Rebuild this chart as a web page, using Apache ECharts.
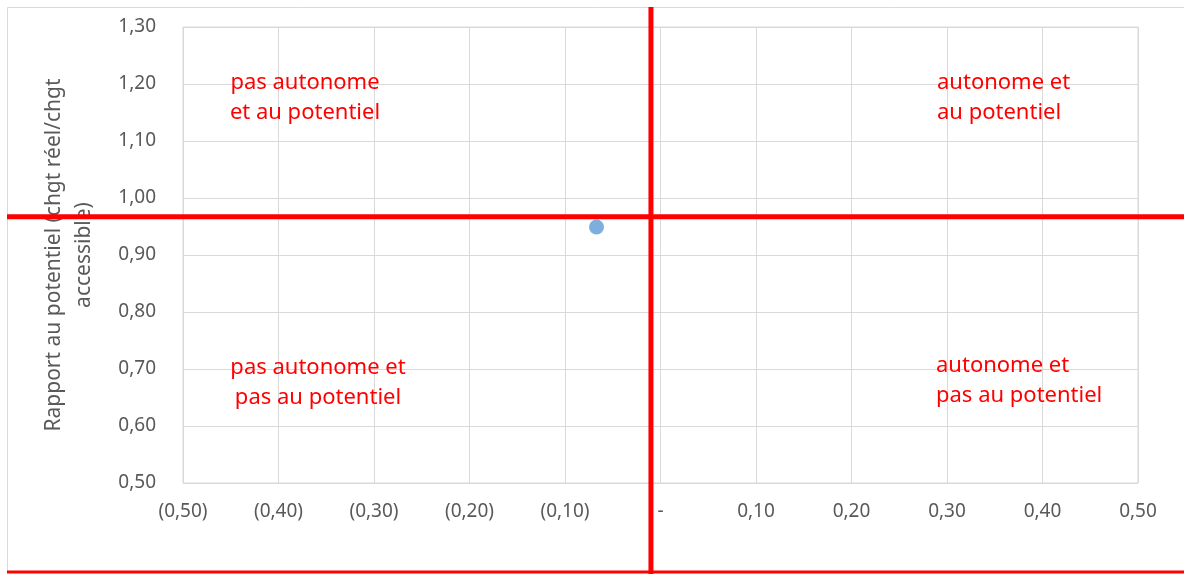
<!DOCTYPE html>
<html>
<head>
<meta charset="utf-8">
<script src="https://cdn.jsdelivr.net/npm/echarts@6/dist/echarts.min.js"></script>
<style>
  html, body { margin: 0; padding: 0; background: #fff; }
  #main { width: 1184px; height: 574px; }
</style>
</head>
<body>
<div id="main"></div>
<script>
// data
var pointX = [-0.067];
var pointY = [0.949];
var splitX = [-0.01];    // vertical red line
var splitY = [0.967];    // horizontal red line
var quadrantTexts = [
    'pas autonome\net au potentiel',
    'autonome et\nau potentiel',
    'pas autonome et\npas au potentiel',
    'autonome et\npas au potentiel'
];

var font = '"Noto Sans", "Open Sans", sans-serif';
var chart = echarts.init(document.getElementById('main'));

function fmtNum(v) {
    var r = Math.round(v * 100) / 100;
    if (Math.abs(r) < 1e-9) return '-';
    var s = Math.abs(r).toFixed(2).replace('.', ',');
    return r < 0 ? '(' + s + ')' : s;
}

var option = {
    animation: false,
    backgroundColor: '#fff',
    grid: {
        left: 183, right: 46, top: 27, bottom: 91,
        show: true, borderColor: '#d9d9d9', borderWidth: 1
    },
    xAxis: {
        type: 'value', min: -0.5, max: 0.5, interval: 0.1,
        axisLine: { show: false }, axisTick: { show: false },
        splitLine: { lineStyle: { color: '#d9d9d9', width: 1 } },
        axisLabel: { color: '#595959', fontSize: 19, fontFamily: font, margin: 19, formatter: fmtNum }
    },
    yAxis: {
        type: 'value', min: 0.5, max: 1.3, interval: 0.1,
        axisLine: { show: false }, axisTick: { show: false },
        splitLine: { lineStyle: { color: '#d9d9d9', width: 1 } },
        axisLabel: { color: '#595959', fontSize: 19, fontFamily: font, margin: 27, formatter: fmtNum },
        name: 'Rapport au potentiel (chgt réel/chgt\naccessible)',
        nameLocation: 'middle', nameRotate: 90, nameGap: 84,
        nameTextStyle: { color: '#595959', fontSize: 21, fontFamily: font, lineHeight: 30 }
    },
    series: [{
        type: 'scatter',
        symbolSize: 15,
        itemStyle: { color: '#5b9bd5' },
        data: pointX.map(function (x, i) { return [x, pointY[i]]; })
    }]
};
chart.setOption(option);

// red split lines across the whole frame, positioned through the axes
var px = chart.convertToPixel({ gridIndex: 0 }, [splitX[0], splitY[0]]);
var txt = function (x, y, text, align) {
    return {
        type: 'text', x: x, y: y, z: 50,
        style: { text: text, fill: '#ff0000', font: '22px ' + font, align: align, lineHeight: 30, verticalAlign: 'middle' }
    };
};
chart.setOption({
    graphic: [
        { type: 'rect', shape: { x: 7.5, y: 7.5, width: 1200, height: 565 }, style: { fill: null, stroke: '#d9d9d9', lineWidth: 1 }, z: 40 },
        { type: 'line', shape: { x1: 7, y1: 572, x2: 1184, y2: 572 }, style: { stroke: '#ff0000', lineWidth: 3 }, z: 60 },
        { type: 'line', shape: { x1: 7, y1: px[1], x2: 1184, y2: px[1] }, style: { stroke: '#ff0000', lineWidth: 5 }, z: 60 },
        { type: 'line', shape: { x1: px[0], y1: 7, x2: px[0], y2: 574 }, style: { stroke: '#ff0000', lineWidth: 5 }, z: 60 },
        txt(305, 98, quadrantTexts[0], 'center'),
        txt(937, 98, quadrantTexts[1], 'left'),
        txt(318, 383, quadrantTexts[2], 'center'),
        txt(936, 381, quadrantTexts[3], 'left')
    ]
});
</script>
</body>
</html>
